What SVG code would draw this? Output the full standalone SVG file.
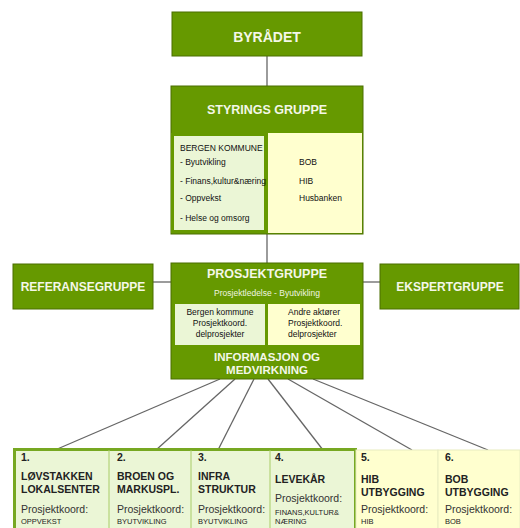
<svg xmlns="http://www.w3.org/2000/svg" width="520" height="528" viewBox="0 0 520 528">
<style>
.dk{fill:#669900;stroke:#4a6e00;stroke-width:1}
.lg{fill:#ebf6d6}
.ly{fill:#ffffcf}
.t{font-family:"Liberation Sans",Arial,sans-serif}
.hw{fill:#f4f7e8;font-weight:bold;text-anchor:middle}
.b{fill:#111;font-size:8.5px}
.bt{fill:#222;font-weight:bold;font-size:10.5px}
.pk{fill:#333;font-size:10.5px}
.sm{fill:#222;font-size:7.5px}
.ln{stroke:#666;stroke-width:1.3;fill:none}
</style>
<rect width="520" height="528" fill="#ffffff"/>
<g id="connectors" class="ln">
<line x1="267" y1="56" x2="267" y2="88"/>
<line x1="267" y1="234" x2="267" y2="263"/>
<line x1="153" y1="282" x2="171" y2="282"/>
<line x1="363" y1="282" x2="380" y2="282"/>
<line x1="220" y1="379" x2="55" y2="450"/>
<line x1="235" y1="379" x2="156" y2="450"/>
<line x1="254" y1="379" x2="218" y2="450"/>
<line x1="268" y1="379" x2="323" y2="450"/>
<line x1="288" y1="379" x2="412" y2="450"/>
<line x1="313" y1="379" x2="488" y2="450"/>
</g>
<g id="byradet">
<rect class="dk" x="172" y="12" width="190" height="44"/>
<text class="t hw" x="267" y="42" font-size="14">BYRÅDET</text>
</g>
<g id="styringsgruppe">
<rect class="dk" x="171" y="86" width="192" height="148"/>
<rect class="ly" x="268" y="133" width="94" height="100"/>
<rect class="lg" x="172.5" y="134.5" width="93" height="97" stroke="#669900" stroke-width="3"/>
<text class="t hw" x="267" y="114" font-size="12.5">STYRINGS GRUPPE</text>
<text class="t b" x="180" y="151">BERGEN KOMMUNE</text>
<text class="t b" x="180" y="165">- Byutvikling</text>
<text class="t b" x="180" y="184">- Finans,kultur&amp;næring</text>
<text class="t b" x="180" y="201">- Oppvekst</text>
<text class="t b" x="180" y="221">- Helse og omsorg</text>
<text class="t b" x="299" y="165">BOB</text>
<text class="t b" x="299" y="184">HIB</text>
<text class="t b" x="299" y="201">Husbanken</text>
</g>
<g id="referansegruppe">
<rect class="dk" x="13" y="264" width="140" height="45"/>
<text class="t hw" x="83" y="291" font-size="12">REFERANSEGRUPPE</text>
</g>
<g id="ekspertgruppe">
<rect class="dk" x="380" y="264" width="139" height="45"/>
<text class="t hw" x="450" y="291" font-size="12">EKSPERTGRUPPE</text>
</g>
<g id="prosjektgruppe">
<rect class="dk" x="171" y="263" width="192" height="116"/>
<text class="t hw" x="267" y="278" font-size="12.5">PROSJEKTGRUPPE</text>
<text class="t" x="267" y="296" font-size="8.5" fill="#f0f5e0" text-anchor="middle">Prosjektledelse  - Byutvikling</text>
<rect class="lg" x="175" y="304" width="90" height="41"/>
<rect class="ly" x="268" y="304" width="92" height="41"/>
<text class="t" font-size="8.5" fill="#111" text-anchor="middle"><tspan x="220" y="315">Bergen kommune</tspan><tspan x="220" y="326">Prosjektkoord.</tspan><tspan x="220" y="337">delprosjekter</tspan></text>
<text class="t" font-size="8.5" fill="#111"><tspan x="288" y="315">Andre aktører</tspan><tspan x="288" y="326">Prosjektkoord.</tspan><tspan x="288" y="337">delprosjekter</tspan></text>
<text class="t hw" x="267" y="361" font-size="11.5">INFORMASJON OG</text>
<text class="t hw" x="267" y="374" font-size="11.5">MEDVIRKNING</text>
</g>
<g id="delprosjekter">
<rect x="14.5" y="449.5" width="341" height="80" fill="#ebf6d6" stroke="#77a822" stroke-width="3"/>
<rect x="356" y="450" width="82" height="80" fill="#ffffcf" stroke="#e8ecc0" stroke-width="1"/>
<rect x="438" y="450" width="82" height="80" fill="#ffffcf" stroke="#e8ecc0" stroke-width="1"/>
<line x1="109" y1="450" x2="109" y2="528" stroke="#a8cc66" stroke-width="1"/>
<line x1="191" y1="450" x2="191" y2="528" stroke="#a8cc66" stroke-width="1"/>
<line x1="270" y1="450" x2="270" y2="528" stroke="#a8cc66" stroke-width="1"/>
</g>
<g id="p1">
<text class="t bt" x="21" y="461">1.</text>
<text class="t bt" x="21" y="480">LØVSTAKKEN</text>
<text class="t bt" x="21" y="493">LOKALSENTER</text>
<text class="t pk" x="21" y="513">Prosjektkoord:</text>
<text class="t sm" x="21" y="524">OPPVEKST</text>
</g>
<g id="p2">
<text class="t bt" x="117" y="461">2.</text>
<text class="t bt" x="117" y="480">BROEN OG</text>
<text class="t bt" x="117" y="493">MARKUSPL.</text>
<text class="t pk" x="117" y="513">Prosjektkoord:</text>
<text class="t sm" x="117" y="524">BYUTVIKLING</text>
</g>
<g id="p3">
<text class="t bt" x="198" y="461">3.</text>
<text class="t bt" x="198" y="480">INFRA</text>
<text class="t bt" x="198" y="493">STRUKTUR</text>
<text class="t pk" x="198" y="513">Prosjektkoord:</text>
<text class="t sm" x="198" y="524">BYUTVIKLING</text>
</g>
<g id="p4">
<text class="t bt" x="275" y="461">4.</text>
<text class="t bt" x="275" y="483">LEVEKÅR</text>
<text class="t pk" x="275" y="502">Prosjektkoord:</text>
<text class="t sm" x="275" y="515">FINANS,KULTUR&amp;</text>
<text class="t sm" x="275" y="524">NÆRING</text>
</g>
<g id="p5">
<text class="t bt" x="361" y="461">5.</text>
<text class="t bt" x="361" y="483">HIB</text>
<text class="t bt" x="361" y="496">UTBYGGING</text>
<text class="t pk" x="361" y="513">Prosjektkoord:</text>
<text class="t sm" x="361" y="524">HIB</text>
</g>
<g id="p6">
<text class="t bt" x="445" y="461">6.</text>
<text class="t bt" x="445" y="483">BOB</text>
<text class="t bt" x="445" y="496">UTBYGGING</text>
<text class="t pk" x="445" y="513">Prosjektkoord:</text>
<text class="t sm" x="445" y="524">BOB</text>
</g>
</svg>
